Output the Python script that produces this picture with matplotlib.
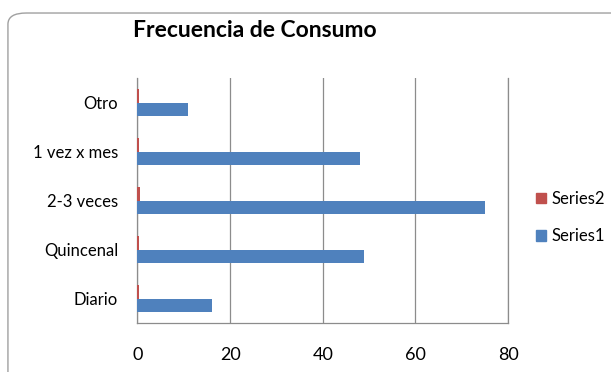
import numpy as np
import matplotlib
matplotlib.use("Agg")
import matplotlib.pyplot as plt
from matplotlib.patches import FancyBboxPatch, Patch

FS = 12
plt.rcParams['font.family'] = ['Lato', 'DejaVu Sans']

categories = ["Diario", "Quincenal", "2-3 veces", "1 vez x mes", "Otro"]
series1 = [16, 49, 75, 48, 11]
series2 = [0.3, 0.3, 0.5, 0.3, 0.3]
x_ticks = [0, 20, 40, 60, 80]

BLUE = "#4F81BD"
RED = "#C0504D"
GRID = "#8C8C8C"

fig = plt.figure(figsize=(6.11, 3.72), dpi=100)

# rounded chart-area border
border = FancyBboxPatch((0.013, -0.05), 1.1, 1.015, boxstyle="round,pad=0,rounding_size=0.03",
                        transform=fig.transFigure, facecolor="none", edgecolor="#A0A0A0",
                        linewidth=1.0, zorder=-1)
fig.patches.append(border)

ax = fig.add_axes([0.225, 0.1317, 0.6065, 0.658])
ax.set_facecolor("none")

y = np.arange(len(categories))
h = 0.27
ax.barh(y - h / 2, series1, height=h, color=BLUE, zorder=3, label="Series1")
ax.barh(y + h / 2, series2, height=h, color=RED, zorder=3, label="Series2")

ax.set_xlim(0, 80)
ax.set_ylim(-0.5, len(categories) - 0.5)
ax.set_xticks(x_ticks)
ax.set_xticklabels([str(v) for v in x_ticks], fontsize=13)
ax.set_yticks(y)
ax.set_yticklabels(categories, fontsize=FS)
ax.tick_params(axis='both', length=0, colors="black")
ax.tick_params(axis='x', pad=17)
ax.tick_params(axis='y', pad=14)

ax.grid(axis='x', color=GRID, linewidth=0.9, zorder=0)
ax.spines['top'].set_visible(False)
for s in ['left', 'bottom', 'right']:
    ax.spines[s].set_color(GRID)
    ax.spines[s].set_linewidth(0.9)

fig.text(0.218, 0.917, "Frecuencia de Consumo", fontsize=16.5, fontweight='bold', ha='left', va='center')

handles = [Patch(color=RED), Patch(color=BLUE)]
fig.legend(handles, ["Series2", "Series1"], loc='center left', bbox_to_anchor=(0.853, 0.415),
           frameon=False, fontsize=FS, handlelength=0.6, handleheight=0.6,
           handletextpad=0.3, labelspacing=1.3)

plt.savefig("out.png", dpi=100)
